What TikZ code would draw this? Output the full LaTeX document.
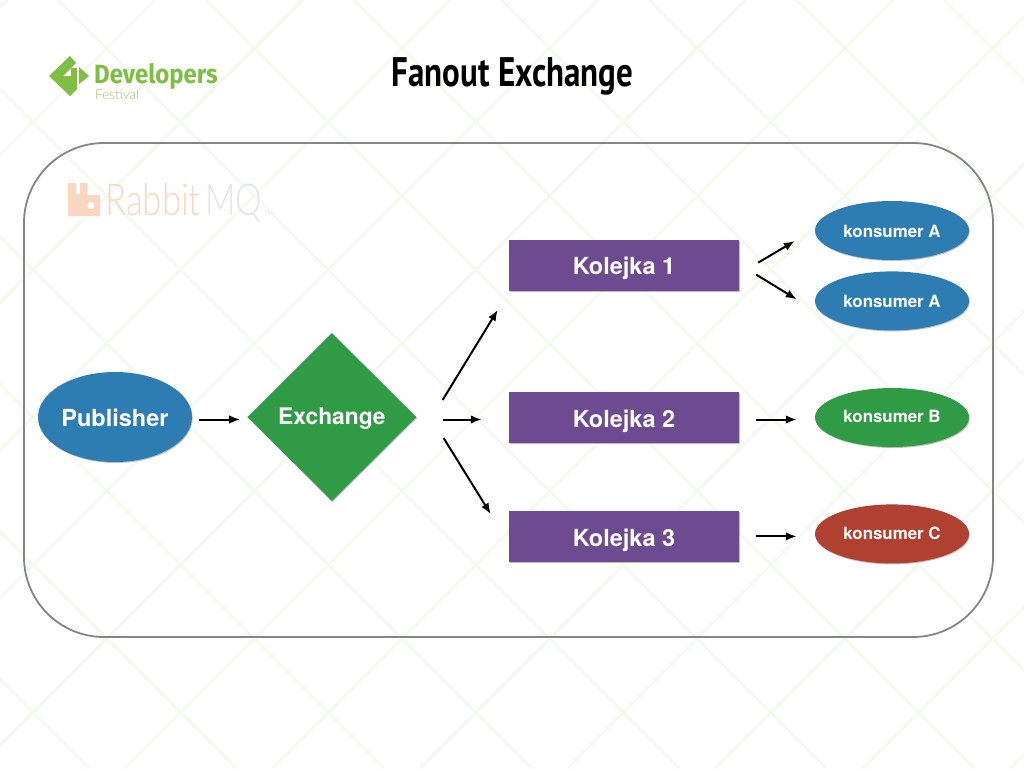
\documentclass[tikz,border=0pt]{standalone}
\usepackage{fontspec}
\setmainfont{TeX Gyre Heros}
\newfontfamily\titlefont{PT Sans}
\newfontfamily\logofont{Fira Sans}
\newfontfamily\thinfont{Lato Light}
\usetikzlibrary{arrows.meta,positioning,shapes.geometric,shadows}
\definecolor{latticegreen}{HTML}{F5FAEE}
\definecolor{logogreen}{HTML}{7DBE43}
\definecolor{rabbitorange}{HTML}{FBD6C0}
\definecolor{mqgray}{HTML}{E4E6E6}
\definecolor{framegray}{HTML}{858589}
\definecolor{bubbleblue}{HTML}{2E7DB2}
\definecolor{leafgreen}{HTML}{2F9B45}
\definecolor{queuepurple}{HTML}{6E4A90}
\definecolor{brickred}{HTML}{B0402F}

\begin{document}
\begin{tikzpicture}[
  x=1pt, y=-1pt, font=\bfseries, node distance=11pt and 70pt,
  lat/.style={latticegreen, line width=2.8pt},
  soft/.style={drop shadow={shadow xshift=0.7pt, shadow yshift=-1pt, fill=black, opacity=0.25}},
  big/.style={text=white, font=\fontsize{23.5}{26}\bfseries, text height=19pt, text depth=0pt},
  oval/.style={ellipse, soft, text=white, inner sep=0pt, font=\fontsize{16.9}{19}\bfseries, text height=14.4pt, text depth=0pt, minimum width=154pt, minimum height=59pt},
  queue/.style={rectangle, soft, big, fill=queuepurple, minimum width=230pt, minimum height=51pt, inner sep=0pt},
  logotext/.style={anchor=base west, inner sep=0pt, transform shape},
  arr/.style={-{Latex[length=11pt,width=8.5pt]}, line width=2pt}]
  % background
  \fill[white] (0,0) rectangle (1024,768);
  \begin{scope}
    \clip (0,0) rectangle (1024,768);
    \foreach \k in {-5,...,7}
      \draw[lat] ({-89+147.6*\k},0) -- ({-89+147.6*\k+768},768);
    \foreach \k in {-1,...,11}
      \draw[lat] ({155+147.6*\k},0) -- ({155+147.6*\k-768},768);
  \end{scope}
  % logos
  \fill[logogreen] (49,76) -- (70,56) -- (76,63) -- (63,76) -- (71,76) -- (71,68) -- (77,68) -- (77,89) -- (70,96) -- cycle;
  \fill[logogreen] (79,67) -- (89,76) -- (79,84) -- cycle;
  \node[logotext, yscale=1.1, text=logogreen, font=\logofont\bfseries\fontsize{24}{26}\selectfont] (devlogo) at (94,83) {Developers};
  \node[logotext, text=logogreen!85, font=\thinfont\fontsize{13.5}{15}\selectfont] (festlogo) at (95,99) {Festival};
  \fill[rabbitorange] (68,183) -- (76,183) -- (76,194) -- (80,194) -- (80,183) -- (87.5,183) -- (87.5,195) -- (100,195) -- (100,216) -- (68,216) -- cycle;
  \fill[white] (91,205.5) circle (3.5pt);
  \node[logotext, xscale=.79, text=rabbitorange, font=\thinfont\fontsize{44}{46}\selectfont] (rabbitlogo) at (105,215) {Rabbit};
  \node[logotext, xscale=.76, text=mqgray, font=\thinfont\fontsize{44}{46}\selectfont] (mqlogo) at (205,215) {MQ};
  \node[logotext, text=mqgray, font=\fontsize{6}{7}\selectfont] (tmlogo) at (264,215) {TM};
  \node[transform shape, yscale=1.25, font=\fontsize{33}{36}\titlefont\bfseries, anchor=base] (title) at (512.5,86) {Fanout Exchange};
  % frame
  \draw[framegray, line width=1.8pt, rounded corners=80pt] (24,143) rectangle (993,637);
  % nodes
  \node[oval, big, fill=bubbleblue, minimum height=90pt, text height=18pt] (publisher) at (115,417) {Publisher};
  \node[diamond, soft, big, fill=leafgreen, minimum width=169pt, minimum height=168pt, inner sep=0pt, text height=14.6pt, font=\fontsize{22.8}{25}\bfseries, right=55pt of publisher] (exchange) {Exchange};
  \node[queue] (q2) at (624,417.5) {Kolejka 2};
  \node[queue, above=101pt of q2] (q1) {Kolejka 1};
  \node[queue, below=68pt of q2] (q3) {Kolejka 3};
  \node[oval, fill=bubbleblue] (ka) at (892,230.5) {konsumer A};
  \node[oval, fill=bubbleblue, text height=13pt, below=11pt of ka] (kb) {konsumer A};
  \node[oval, fill=leafgreen, text height=9.6pt] (kc) at (892,417.5) {konsumer B};
  \node[oval, fill=brickred, text height=10.4pt, below=57pt of kc] (kd) {konsumer C};
  % arrows
  \draw[arr] ([xshift=7pt,yshift=-2.5pt]publisher.east) -- ([xshift=-7pt,yshift=-2.5pt]exchange.west);
  \draw[arr] ([xshift=26pt,yshift=17pt]exchange.east) -- ([xshift=-11pt,yshift=-19pt]q1.south west);
  \draw[arr] ([xshift=26pt,yshift=-2.5pt]exchange.east) -- ([xshift=-27pt,yshift=-2pt]q2.west);
  \draw[arr] ([xshift=27pt,yshift=-21pt]exchange.east) -- ([xshift=-18pt,yshift=-3pt]q3.north west);
  \draw[arr] ([xshift=19pt,yshift=2.5pt]q1.east) -- ([xshift=-20pt,yshift=-10.5pt]ka.west);
  \draw[arr] ([xshift=17pt,yshift=-9.5pt]q1.east) -- ([xshift=-18pt,yshift=1.5pt]kb.west);
  \draw[arr] ([xshift=17pt,yshift=-2pt]q2.east) -- ([xshift=-18pt,yshift=-2pt]kc.west);
  \draw[arr] ([xshift=17pt,yshift=0.5pt]q3.east) -- ([xshift=-18pt,yshift=-2.5pt]kd.west);
\end{tikzpicture}
\end{document}
